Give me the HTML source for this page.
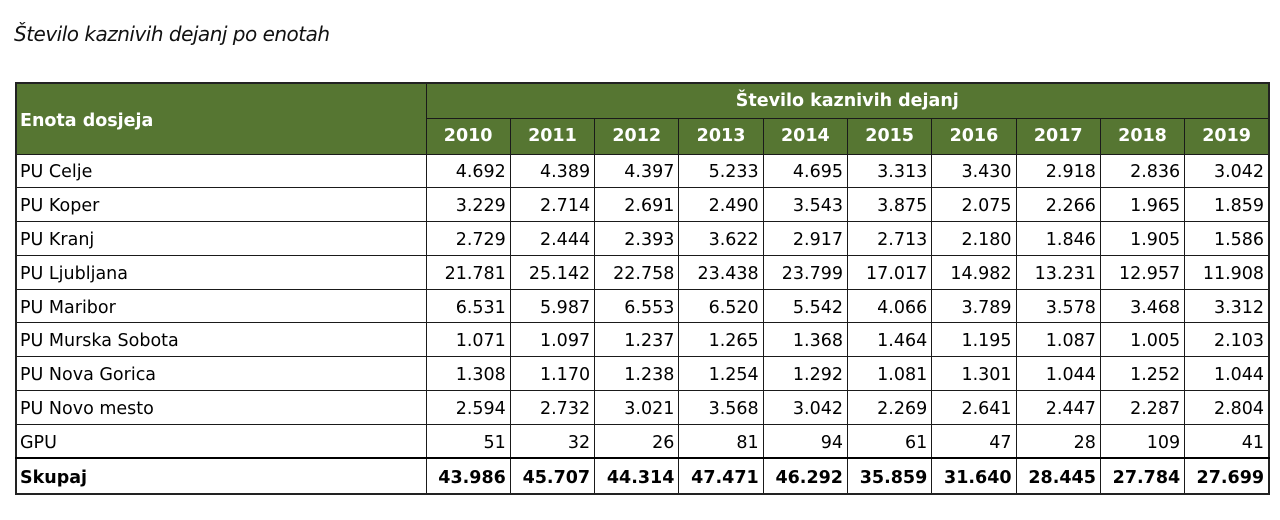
<!DOCTYPE html>
<html><head><style>
body{margin:0;width:1280px;height:520px;background:#fff;position:relative;overflow:hidden;font-family:"DejaVu Sans","Liberation Sans",sans-serif;}
.title{position:absolute;left:14px;top:22px;font-size:20px;font-style:italic;color:#111;letter-spacing:-0.5px}
table{position:absolute;left:15px;top:82px;border-collapse:collapse;table-layout:fixed;width:1253px;font-size:17.5px;line-height:20px;color:#000;border:2px solid #222}
td,th{border:1.6px solid #1a1a1a;padding:0 4px;overflow:hidden;white-space:nowrap}
th{background:#567632;color:#fff;font-weight:bold}
td{text-align:right;padding-top:3px}
tr.d{height:33.8px}
td.n{text-align:left;padding-left:3px}
tr.tot{height:36px}
tr.tot td{font-weight:bold;border-top:2px solid #000}
</style></head><body>
<div class="title">Število kaznivih dejanj po enotah</div>
<table>
<colgroup><col style="width:410px"><col span="10" style="width:84.3px"></colgroup>
<tr style="height:35px"><th rowspan="2" style="text-align:left;padding-left:3px;padding-top:4px">Enota dosjeja</th><th colspan="10">Število kaznivih dejanj</th></tr>
<tr style="height:36px"><th>2010</th><th>2011</th><th>2012</th><th>2013</th><th>2014</th><th>2015</th><th>2016</th><th>2017</th><th>2018</th><th>2019</th></tr>
<tr class="d"><td class="n">PU Celje</td><td>4.692</td><td>4.389</td><td>4.397</td><td>5.233</td><td>4.695</td><td>3.313</td><td>3.430</td><td>2.918</td><td>2.836</td><td>3.042</td></tr>
<tr class="d"><td class="n">PU Koper</td><td>3.229</td><td>2.714</td><td>2.691</td><td>2.490</td><td>3.543</td><td>3.875</td><td>2.075</td><td>2.266</td><td>1.965</td><td>1.859</td></tr>
<tr class="d"><td class="n">PU Kranj</td><td>2.729</td><td>2.444</td><td>2.393</td><td>3.622</td><td>2.917</td><td>2.713</td><td>2.180</td><td>1.846</td><td>1.905</td><td>1.586</td></tr>
<tr class="d"><td class="n">PU Ljubljana</td><td>21.781</td><td>25.142</td><td>22.758</td><td>23.438</td><td>23.799</td><td>17.017</td><td>14.982</td><td>13.231</td><td>12.957</td><td>11.908</td></tr>
<tr class="d"><td class="n">PU Maribor</td><td>6.531</td><td>5.987</td><td>6.553</td><td>6.520</td><td>5.542</td><td>4.066</td><td>3.789</td><td>3.578</td><td>3.468</td><td>3.312</td></tr>
<tr class="d"><td class="n">PU Murska Sobota</td><td>1.071</td><td>1.097</td><td>1.237</td><td>1.265</td><td>1.368</td><td>1.464</td><td>1.195</td><td>1.087</td><td>1.005</td><td>2.103</td></tr>
<tr class="d"><td class="n">PU Nova Gorica</td><td>1.308</td><td>1.170</td><td>1.238</td><td>1.254</td><td>1.292</td><td>1.081</td><td>1.301</td><td>1.044</td><td>1.252</td><td>1.044</td></tr>
<tr class="d"><td class="n">PU Novo mesto</td><td>2.594</td><td>2.732</td><td>3.021</td><td>3.568</td><td>3.042</td><td>2.269</td><td>2.641</td><td>2.447</td><td>2.287</td><td>2.804</td></tr>
<tr class="d"><td class="n">GPU</td><td>51</td><td>32</td><td>26</td><td>81</td><td>94</td><td>61</td><td>47</td><td>28</td><td>109</td><td>41</td></tr>
<tr class="tot"><td class="n">Skupaj</td><td>43.986</td><td>45.707</td><td>44.314</td><td>47.471</td><td>46.292</td><td>35.859</td><td>31.640</td><td>28.445</td><td>27.784</td><td>27.699</td></tr>
</table>
</body></html>
